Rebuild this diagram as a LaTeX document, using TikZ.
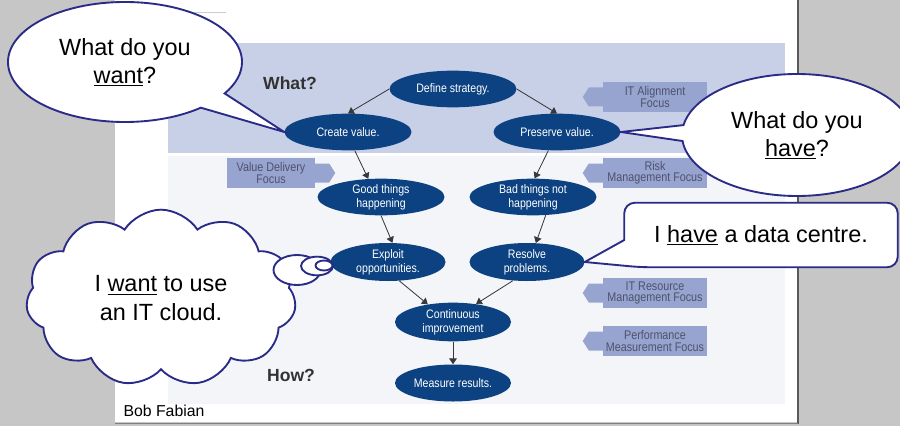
\documentclass[tikz,border=0pt]{standalone}
\usepackage{fontspec}
\setmainfont{Liberation Sans}
\newfontfamily\narrowfont[FakeStretch=0.86]{Liberation Sans}
\usetikzlibrary{shapes.geometric,shapes.callouts,shapes.symbols,arrows.meta,calc}

\definecolor{goalblue}{RGB}{12,66,130}
\definecolor{flowgray}{RGB}{55,55,60}
\definecolor{bandwhat}{RGB}{200,208,232}
\definecolor{bandhow}{RGB}{243,245,248}
\definecolor{focusfill}{RGB}{152,164,208}
\definecolor{focustext}{RGB}{78,82,108}
\definecolor{saynavy}{RGB}{42,42,135}
\definecolor{pagegray}{RGB}{198,198,198}
\definecolor{headgray}{RGB}{50,50,50}

\tikzset{
  goal/.style={ellipse, fill=goalblue, text=white, inner sep=0pt, align=center,
    minimum width=3.81cm, minimum height=1.1cm,
    font=\narrowfont\fontsize{10.5}{12}\selectfont},
  flow/.style={draw=flowgray, line width=0.7pt, -{Triangle[length=5pt,width=6.5pt]}},
  focus/.style={fill=focusfill, text=focustext, inner sep=0pt, align=center,
    minimum width=3.12cm, minimum height=0.9cm,
    font=\narrowfont\fontsize{10.7}{9.6}\selectfont},
  heading/.style={text=headgray, font=\bfseries\fontsize{15}{18}\selectfont},
  saying/.style={draw=saynavy, fill=white, line width=1.6pt, align=center,
    inner sep=0pt, font=\fontsize{20}{24}\selectfont},
}

% block arrow beside a focus box: node, anchor, direction (1 right, -1 left)
\newcommand{\focustip}[3]{%
  \fill[focusfill] ($(#1.#2)+(0,-9.5)$) -- ($(#1.#2)+(#3*14,-9.5)$)
    -- ($(#1.#2)+(#3*20,0)$) -- ($(#1.#2)+(#3*14,9.5)$)
    -- ($(#1.#2)+(0,9.5)$) -- cycle;}

\begin{document}
\begin{tikzpicture}[x=0.03cm,y=-0.03cm]
      \clip (0,0) rectangle (900,426);
      \fill[pagegray] (0,0) rectangle (900,426);
      \fill[white] (115,0) rectangle (797,422);
      \draw[gray!40] (115,12) -- (226,12);
      \draw[gray!70!black, line width=1.5pt] (798,0) -- (798,424);
      \draw[gray, line width=0.8pt] (115,423) -- (798,423);

      \fill[bandwhat] (168,43) rectangle (785,153);
      \fill[bandhow] (168,156) rectangle (785,404);

      \node[heading] (what) at (290,83) {What?};
      \node[heading] (how) at (291,375) {How?};
      \node[font=\fontsize{13.5}{16}\selectfont] (author) at (164,411) {Bob Fabian};

      \node[focus, minimum width=2.64cm] (delivery) at (271,173) {Value Delivery\\Focus};
      \focustip{delivery}{east}{1}
      \node[focus] (alignment) at (655,97) {IT Alignment\\Focus};
      \focustip{alignment}{west}{-1}
      \node[focus] (risk) at (655,173) {Risk\\Management Focus};
      \focustip{risk}{west}{-1}
      \node[focus] (resource) at (655,293) {IT Resource\\Management Focus};
      \focustip{resource}{west}{-1}
      \node[focus] (measurement) at (655,341) {Performance\\Measurement Focus};
      \focustip{measurement}{west}{-1}

      \node[goal] (define) at (453,89) {Define strategy.};
      \node[goal] (create) at (348,132) {Create value.};
      \node[goal] (preserve) at (557,132) {Preserve value.};
      \node[goal] (good) at (381,197) {Good things\\happening};
      \node[goal] (bad) at (533,197) {Bad things not\\happening};
      \node[goal, minimum width=3.45cm, minimum height=1.14cm] (exploit) at (388,262) {Exploit\\opportunities.};
      \node[goal, minimum width=3.45cm, minimum height=1.14cm] (resolve) at (527,262) {Resolve\\problems.};
      \node[goal, minimum width=3.48cm, minimum height=1.16cm] (continuous) at (453,322) {Continuous\\improvement};
      \node[goal, minimum width=3.48cm, minimum height=1.11cm] (measure) at (453,383) {Measure results.};

      \draw[flow] (define.west) -- (create.north);
      \draw[flow] (define.east) -- (preserve.north);
      \draw[flow] (create.-70) -- (good.125);
      \draw[flow] (preserve.-115) -- (bad.85);
      \draw[flow] (good.south) -- (exploit.77);
      \draw[flow] (bad.-55) -- (resolve.65);
      \draw[flow] (exploit.-59) -- (continuous.145);
      \draw[flow] (resolve.-127) -- (continuous.38);
      \draw[flow] (continuous.south) -- (measure.north);

      \node[saying, ellipse callout, minimum width=7.02cm, minimum height=3.6cm,
        callout pointer arc=18, callout absolute pointer=(create.west)]
        (wantcall) at (125,62) {What do you\\\underline{want}?};
      \node[saying, ellipse callout, minimum width=6.9cm, minimum height=3.66cm,
        callout absolute pointer=(preserve.east)]
        (havecall) at (797,135) {What do you\\\underline{have}?};

      \path (761,235) node[minimum width=8.19cm, minimum height=1.92cm] (havebox) {};
      \filldraw[saying] (resolve.east) -- ($(havebox.west)+(0,5)$)
        [rounded corners=9pt] -- (havebox.north west) -- (havebox.north east)
        -- (havebox.south east) -- ($(havebox.south west)+(16,0)$) [sharp corners] -- cycle;
      \node[font=\fontsize{20}{24}\selectfont] (havetext) at (havebox) {I \underline{have} a data centre.};

      \node[saying, cloud, cloud puffs=11, cloud puff arc=115, aspect=1.5,
        minimum width=8.1cm, minimum height=5.3cm] (wantcloud) at (161,298)
        {I \underline{want} to use\\an IT cloud.};
      \node[saying, ellipse, minimum width=1.41cm, minimum height=0.9cm] (bubbleA) at (297,270) {};
      \node[saying, ellipse, minimum width=0.96cm, minimum height=0.56cm] (bubbleB) at (317,266) {};
      \node[saying, ellipse, minimum width=0.51cm, minimum height=0.3cm] (bubbleC) at (324,265.5) {};
\end{tikzpicture}
\end{document}
